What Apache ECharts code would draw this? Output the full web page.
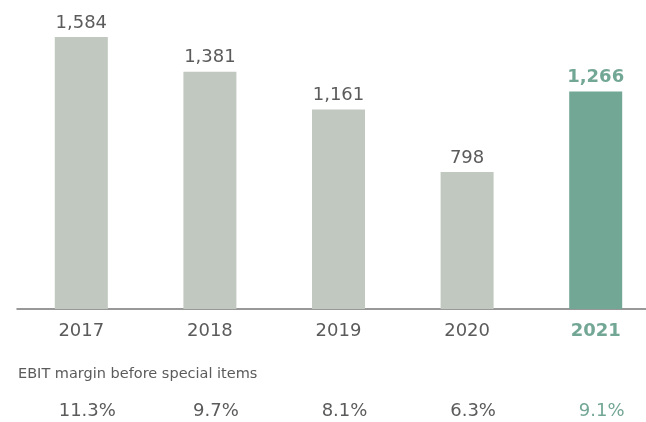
<!DOCTYPE html>
<html>
<head>
<meta charset="utf-8">
<script src="https://cdn.jsdelivr.net/npm/echarts@6/dist/echarts.min.js"></script>
<style>
html,body{margin:0;padding:0;background:#fff;}
#chart{width:646px;height:422px;}
</style>
</head>
<body>
<div id="chart"></div>
<script>
const years = ['2017', '2018', '2019', '2020', '2021'];
const ebit = [1584, 1381, 1161, 798, 1266];
const margins = ['11.3%', '9.7%', '8.1%', '6.3%', '9.1%'];
const marginTitle = 'EBIT margin before special items';

const GREY = '#c1c8bf';
const GREEN = '#73a795';
const TEXT = '#5b5b5b';
const FONT = '"DejaVu Sans", sans-serif';
const last = years.length - 1;

const chart = echarts.init(document.getElementById('chart'), null, {renderer: 'canvas'});
chart.setOption({
  animation: false,
  title: {
    text: marginTitle,
    left: 13,
    top: 362,
    textStyle: {fontFamily: FONT, fontSize: 14.5, fontWeight: 'normal', color: TEXT}
  },
  grid: {left: 17, width: 643, top: 17, bottom: 113, containLabel: false, outerBoundsMode: 'none'},
  xAxis: [
    {
      type: 'category',
      data: years,
      position: 'bottom',
      axisLine: {show: true, lineStyle: {color: '#777', width: 1.5}},
      axisTick: {show: false},
      axisLabel: {
        margin: 13,
        fontFamily: FONT,
        fontSize: 18,
        color: TEXT,
        formatter: function (v, i) {
          return i === last ? '{hl|' + v + '}' : v;
        },
        rich: {hl: {fontFamily: FONT, fontSize: 18, fontWeight: 'bold', color: GREEN}}
      }
    },
    {
      type: 'category',
      data: years,
      position: 'bottom',
      offset: 93,
      axisLine: {show: false},
      axisTick: {show: false},
      axisLabel: {
        margin: 0,
        padding: [0, 0, 0, 12],
        fontFamily: FONT,
        fontSize: 18,
        color: TEXT,
        formatter: function (v, i) {
          return i === last ? '{hl|' + margins[i] + '}' : margins[i];
        },
        rich: {hl: {fontFamily: FONT, fontSize: 18, color: GREEN}}
      }
    }
  ],
  yAxis: {
    type: 'value',
    min: 0,
    max: 1700,
    show: false,
    splitLine: {show: false}
  },
  series: [{
    type: 'bar',
    data: ebit.map(function (v, i) {
      return {
        value: v,
        itemStyle: {color: i === last ? GREEN : GREY},
        label: i === last ? {color: GREEN, fontWeight: 'bold'} : {}
      };
    }),
    barWidth: 53,
    label: {
      show: true,
      position: 'top',
      distance: 5,
      fontFamily: FONT,
      fontSize: 18,
      color: TEXT,
      formatter: function (p) {
        return p.value.toLocaleString('en-US');
      }
    }
  }]
});
</script>
</body>
</html>
